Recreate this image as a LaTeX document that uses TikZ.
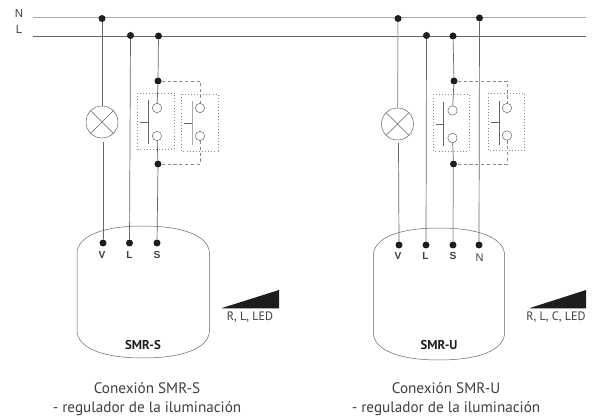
\documentclass[tikz,border=0pt]{standalone}
\usepackage{fontspec}
\setmainfont{PT Sans}
\newfontfamily\arialfont{Liberation Sans}
\definecolor{ink}{HTML}{1D1D1B}
\definecolor{wiredark}{HTML}{666666}
\definecolor{wirelight}{HTML}{A8A8A8}
\definecolor{dotgray}{HTML}{8A8A8A}
\tikzset{
  joint/.style={circle,fill=ink,draw=none,minimum size=7pt,inner sep=0pt},
  term/.style={circle,draw=wiredark,fill=white,line width=.5pt,minimum size=9.4pt,inner sep=0pt},
  lampnode/.style={circle,draw=wiredark,line width=.5pt,minimum size=32pt,inner sep=0pt},
  wire/.style={draw=wiredark,line width=.7pt},
  wirepale/.style={draw=wirelight,line width=1pt},
  dashwire/.style={draw=dotgray,line width=.5pt,dash pattern=on 3.2pt off 2.6pt},
  dotbox/.style={draw=dotgray,line width=.6pt,dash pattern=on 1pt off 2.1pt},
  bar/.style={draw=wiredark,line width=.7pt},
  modbody/.style={draw=wiredark,line width=.5pt},
  pin/.style={font=\arialfont\bfseries\fontsize{10.2}{12}\selectfont,text=ink!85,inner sep=0pt},
  busname/.style={font=\arialfont\fontsize{11.5}{13}\selectfont,text=ink!85,inner sep=0pt},
  modname/.style={font=\bfseries\fontsize{12.8}{14}\selectfont,text=ink,inner sep=0pt},
  loadname/.style={font=\fontsize{12.2}{14}\selectfont,text=ink!85,inner sep=0pt},
  caption/.style={font=\fontsize{15.2}{19}\selectfont,text=ink!85,inner sep=0pt,align=center},
}
\begin{document}
\begin{tikzpicture}[x=1pt,y=-1pt]
\useasboundingbox (0,0) rectangle (594,419);
\fill[white] (0,0) rectangle (594,419);
% bus
\coordinate (ns) at (33,18); \coordinate (ne) at (586,18);
\coordinate (ls) at (33,36); \coordinate (le) at (586,36);
\draw[wirepale] (ns) -- (ne);
\draw[wire] (ls) -- (le);
\node[busname] (nN) at (19,14) {N};
\node[busname] (nL) at (19,30) {L};

% ---------- left circuit
\draw[modbody] (77,290) -- (77,254) .. controls (77,235) and (105,226) .. (143,226)
  .. controls (181,226) and (209.5,235) .. (209.5,254) -- (209.5,330)
  .. controls (209.5,349) and (181,358) .. (143,358)
  .. controls (105,358) and (77,349) .. (77,330) -- cycle;
\node[joint] (an) at (102,18.5) {};
\node[joint] (al) at (130.5,35.5) {};
\node[joint] (as) at (158.5,36) {};
\node[joint] (at) at (158,81) {};
\node[joint] (ab) at (158,164) {};
\node[joint] (av) at (103,243) {};
\node[joint] (am) at (129.5,243) {};
\node[joint] (ap) at (157,243) {};
\node[lampnode] (alamp) at (102,122) {};
\draw[wire] (an) -- (alamp);
\draw[wiredark,line width=.5pt] (alamp.45) -- (alamp.225) (alamp.135) -- (alamp.315);
\coordinate (agap) at (103,142);
\draw[wire] (agap) -- (av);
\draw[wire] (al) -- (am);
\node[term] (at1) at (157,108) {};
\node[term] (at2) at (157,136) {};
\node[term] (at3) at (200,108) {};
\node[term] (at4) at (200,136) {};
\draw[wire] (as) -- (at) -- (at1);
\draw[wire] (at2) -- (ab) -- (ap);
\draw[dotbox] (137.5,93) rectangle (174.5,149);
\draw[dotbox] (181.5,94) rectangle (218,151);
\draw[dashwire] (at) -| (at3);
\draw[dashwire] (at4) |- (ab);
\draw[bar] (148,100) -- (148,144) (140,122) -- (148,122);
\draw[bar,draw=wirelight,line width=1pt] (192,101) -- (192,145);
\draw[bar] (184,123) -- (192,123);
\node[pin] (avt) at (102,254.5) {V};
\node[pin] (amt) at (129.5,254.5) {L};
\node[pin] (apt) at (157,254.5) {S};
\node[modname] (asm) at (143,345) {SMR-S};
\fill[ink] (222,308) -- (279,308) -- (279,290) -- cycle;
\draw[wirelight,line width=.6pt] (222,308) -- (279,308);
\node[loadname] (ar) at (250,317.5) {R, L, LED};
\node[caption] (acap) at (147,399) {Conexión SMR-S\\- regulador de la iluminación};

% ---------- right circuit
\draw[modbody] (373.3,292) -- (373.3,256) .. controls (373.3,237) and (401,228) .. (439,228)
  .. controls (477,228) and (504.7,237) .. (504.7,256) -- (504.7,332)
  .. controls (504.7,351) and (477,360) .. (439,360)
  .. controls (401,360) and (373.3,351) .. (373.3,332) -- cycle;
\node[joint] (bn) at (398,18.5) {};
\node[joint] (bn2) at (479.5,18) {};
\node[joint] (bl) at (426.5,35.5) {};
\node[joint] (bs) at (453,36) {};
\node[joint] (bt) at (454,81) {};
\node[joint] (bb) at (453.5,164) {};
\node[joint] (bv) at (399,245) {};
\node[joint] (bm) at (426,245) {};
\node[joint] (bp) at (453,245) {};
\node[joint] (bq) at (479,245) {};
\node[lampnode] (blamp) at (397.5,124) {};
\draw[wirepale] (bn) -- (blamp);
\draw[wiredark,line width=.5pt] (blamp.45) -- (blamp.225) (blamp.135) -- (blamp.315);
\coordinate (bgap) at (398.5,143);
\draw[wire] (bgap) -- (bv);
\draw[wire] (bl) -- (bm);
\draw[wire] (bn2) -- (bq);
\node[term] (bt1) at (452.5,110.5) {};
\node[term] (bt2) at (452.5,138) {};
\node[term] (bt3) at (507,108) {};
\node[term] (bt4) at (507,135.5) {};
\draw[wire] (bs) -- (bt) -- (bt1);
\draw[wire] (bt2) -- (bb);
\draw[wirepale] (bb) -- (bp);
\draw[dotbox] (433.5,94.5) rectangle (469.5,151.5);
\draw[dotbox] (488,93.5) rectangle (524.5,150.5);
\draw[dashwire] (bt) -| (bt3);
\draw[dashwire] (bt4) |- (bb);
\draw[bar] (443.5,102) -- (443.5,146) (435.5,124) -- (443.5,124);
\draw[bar] (499,101) -- (499,145) (491,122.5) -- (499,122.5);
\node[pin] (bvt) at (398,256) {V};
\node[pin] (bmt) at (425.5,256) {L};
\node[pin] (bpt) at (453,256) {S};
\node[font=\arialfont\fontsize{11}{13}\selectfont,text=ink!85,inner sep=0pt] (bqt) at (479.5,258) {N};
\node[modname] (bsm) at (439,345) {SMR-U};
\fill[ink] (530,308) -- (586,308) -- (586,290) -- cycle;
\draw[wirelight,line width=.6pt] (530,308) -- (586,308);
\node[loadname] (br) at (556,317.5) {R, L, C, LED};
\node[caption] (bcap) at (446,399) {Conexión SMR-U\\- regulador de la iluminación};
\end{tikzpicture}
\end{document}
